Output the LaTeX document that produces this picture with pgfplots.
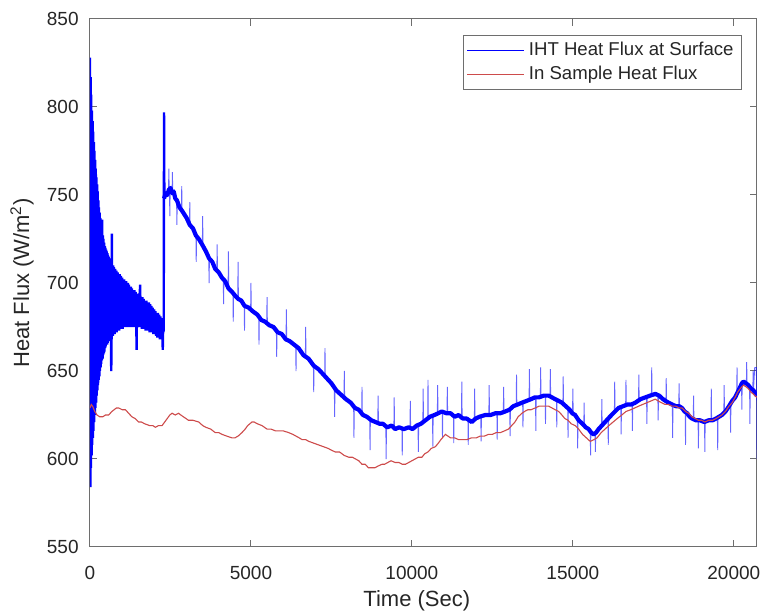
\documentclass[border=0pt]{standalone}
\usepackage{fontspec}
\setmainfont{Liberation Sans}
\usepackage{pgfplots}
\pgfplotsset{compat=1.18}
\definecolor{mblue}{rgb}{0,0,1}
\definecolor{mred}{RGB}{205,75,75}
\definecolor{mtext}{RGB}{38,38,38}
\definecolor{maxis}{RGB}{110,110,110}
\begin{document}
\begin{tikzpicture}
\useasboundingbox (-45pt,-34pt) rectangle (341pt,273.5pt);
\begin{axis}[
  at={(0,0)}, anchor=south west,
  scale only axis, width=333.5pt, height=264pt,
  xmin=0, xmax=20720, ymin=550, ymax=850,
  xtick={0,5000,10000,15000,20000},
  ytick={550,600,650,700,750,800,850},
  scaled x ticks=false,
  /pgf/number format/1000 sep={},
  /pgf/number format/assume math mode=true,
  tick align=inside, major tick length=3.3pt,
  axis line style={maxis, line width=0.5pt},
  tick style={maxis, line width=0.5pt},
  ticklabel style={font=\fontsize{9.5}{10}\selectfont, text=mtext},
  xticklabel style={anchor=center, inner sep=0pt, yshift=-13pt},
  yticklabel style={anchor=east, inner sep=0pt, xshift=-5.5pt},
  xlabel={Time (Sec)}, ylabel={Heat Flux (W/m\textsuperscript{2})},
  xlabel style={at={(axis description cs:0.49,-0.102)}, anchor=center, inner sep=0pt, font=\fontsize{11}{13}\selectfont, text=mtext},
  ylabel style={at={(axis description cs:-0.102,0.5)}, anchor=center, inner sep=0pt, font=\fontsize{11}{13}\selectfont, text=mtext},
  legend style={at={(rel axis cs:1,1)}, xshift=-7.5pt, yshift=-8pt, anchor=north east,
    draw=maxis, line width=0.4pt, fill=white, font=\fontsize{9.3}{11}\selectfont, text=mtext,
    inner xsep=2pt, inner ysep=2pt, row sep=1.6pt,
    nodes={inner xsep=2pt, inner ysep=1.2pt}},
  legend cell align=left,
  legend image code/.code={\draw[#1, line width=0.5pt] (0pt,0pt) -- (28.5pt,0pt);},
]
% early oscillating part
\addplot[mblue, line width=1.2pt, forget plot] coordinates {
(0,828) (10,584) (20,817) (30,595) (40,807) (50,602) (60,798) (70,608) (80,792) (90,612)
(100,786) (110,616) (120,780) (130,621) (140,775) (150,625) (160,770) (170,629) (180,765) (190,632)
(200,760) (210,636) (220,756) (230,639) (240,752) (250,642) (260,747) (270,645) (280,743) (290,647)
(300,740) (310,650) (320,737) (330,652) (340,734) (350,654) (360,732) (370,656) (380,736) (390,657)
(400,727) (410,659) (420,725) (430,660) (440,723) (450,661) (460,721) (470,663) (480,720) (490,664)
(500,719) (510,665) (520,718) (530,665) (540,717) (550,666) (560,716) (570,667) (580,715) (590,667)
(600,714) (610,668) (620,713) (630,668) (640,713) (650,669) (660,650) (670,669) (680,728) (690,670)
(700,710) (710,670) (720,710) (730,671) (740,709) (750,671) (760,708) (770,671) (780,708) (790,672)
(800,707) (810,672) (820,707) (830,672) (840,706) (850,673) (860,706) (870,673) (880,705) (890,673)
(900,705) (910,673) (920,705) (930,674) (940,704) (950,674) (960,704) (970,674) (980,703) (990,674)
(1000,703) (1015,674) (1030,702) (1045,675) (1060,702) (1075,675) (1090,701) (1105,675) (1120,701) (1135,675)
(1150,700) (1165,675) (1180,700) (1195,675) (1210,699) (1225,675) (1240,698) (1255,675) (1270,698) (1285,675)
(1300,697) (1320,675) (1340,696) (1360,675) (1380,696) (1400,675) (1420,695) (1450,662) (1460,694) (1480,675)
(1500,694) (1520,675) (1540,693) (1560,699) (1570,675) (1590,692) (1610,674) (1630,692) (1650,674) (1670,691)
(1690,674) (1710,690) (1730,673) (1750,690) (1770,673) (1790,689) (1810,673) (1830,689) (1850,672) (1870,688)
(1890,672) (1910,687) (1930,672) (1950,686) (1970,671) (1990,685) (2010,671) (2030,684) (2050,670) (2070,683)
(2090,669) (2110,683) (2130,669) (2150,682) (2170,668) (2190,681) (2210,668) (2230,680) (2250,672) (2260,662)
(2270,672) (2290,673) (2300,797) (2310,748)
};
% spikes
\addplot[mblue, opacity=0.6, line width=0.45pt, forget plot] coordinates {
(2310,748) (2440,753) (2450,765) (2460,753) (2470,752) (2480,738) (2490,752)
(2550,752) (2560,763) (2570,752) (2690,747) (2700,733) (2710,747)
(2840,741) (2850,755) (2860,741) (3090,733) (3100,746) (3110,733)
(3290,727) (3300,712) (3310,727) (3490,722) (3500,738) (3510,722)
(3690,714) (3700,700) (3710,714) (3940,707) (3950,722) (3960,707)
(4140,702) (4150,688) (4160,702) (4290,697) (4300,718) (4310,697)
(4440,694) (4450,678) (4460,694) (4590,691) (4600,712) (4610,691)
(4790,687) (4800,673) (4810,687) (4990,685) (5000,700) (5010,685)
(5240,681) (5250,665) (5260,681) (5490,677) (5500,692) (5510,677)
(5790,673) (5800,658) (5810,673) (6090,668) (6100,685) (6110,668)
(6390,664) (6400,650) (6410,664) (6690,658) (6700,675) (6710,658)
(6940,653) (6950,638) (6960,653) (7290,647) (7300,663) (7310,647)
(7590,640) (7600,624) (7610,640) (7890,635) (7900,650) (7910,635)
(8190,630) (8200,612) (8210,630) (8440,626) (8450,641) (8460,626)
(8690,623) (8700,605) (8710,623) (8940,621) (8950,636) (8960,621)
(9190,619) (9200,600) (9210,619) (9440,618) (9450,635) (9460,618)
(9690,617) (9700,602) (9710,617) (9940,618) (9950,633) (9960,618)
(10190,619) (10200,604) (10210,619) (10340,621) (10350,640) (10360,621)
(10490,623) (10500,645) (10510,623) (10640,625) (10650,607) (10660,625)
(10790,626) (10800,642) (10810,626) (10940,627) (10950,612) (10960,627)
(11090,626) (11100,641) (11110,626) (11290,625) (11300,609) (11310,625)
(11540,624) (11550,644) (11560,624) (11740,622) (11750,608) (11760,622)
(11940,622) (11950,640) (11960,622) (12140,624) (12150,610) (12160,624)
(12390,625) (12400,642) (12410,625) (12640,626) (12650,611) (12660,626)
(12840,627) (12850,641) (12860,627) (13040,628) (13050,613) (13060,628)
(13240,631) (13250,648) (13260,631) (13440,632) (13450,618) (13460,632)
(13640,634) (13650,651) (13660,634) (13840,635) (13850,616) (13860,635)
(13990,635) (14000,652) (14010,635) (14140,636) (14150,620) (14160,636)
(14290,636) (14300,651) (14310,636) (14490,634) (14500,618) (14510,634)
(14690,631) (14700,647) (14710,631) (14840,629) (14850,612) (14860,629)
(14990,626) (15000,640) (15010,626) (15140,623) (15150,606) (15160,623)
(15340,619) (15350,632) (15360,619) (15540,616) (15550,602) (15560,616)
(15690,614) (15700,604) (15710,614) (15890,619) (15900,634) (15910,619)
(16090,623) (16100,608) (16110,623) (16290,627) (16300,644) (16310,627)
(16490,630) (16500,614) (16510,630) (16640,631) (16650,645) (16660,631)
(16840,631) (16850,616) (16860,631) (17040,633) (17050,648) (17060,633)
(17290,635) (17300,620) (17310,635) (17440,636) (17450,652) (17460,636)
(17640,636) (17650,622) (17660,636) (17890,633) (17900,646) (17910,633)
(18090,631) (18100,612) (18110,631) (18290,630) (18300,643) (18310,630)
(18490,627) (18500,608) (18510,627) (18740,623) (18750,636) (18760,623)
(18890,622) (18900,606) (18910,622) (19090,621) (19100,604) (19110,621)
(19290,622) (19300,640) (19310,622) (19490,623) (19500,605) (19510,623)
(19690,626) (19700,642) (19710,626) (19890,631) (19900,615) (19910,631)
(20090,637) (20100,652) (20110,637) (20240,643) (20250,628) (20260,643)
(20390,643) (20400,655) (20410,643) (20490,641) (20500,620) (20510,641)
(20590,639) (20600,650) (20610,639) (20650,652) (20700,652) (20710,636) (20720,600)
};
% main trend (thick core)
\addplot[mblue, line width=2.1pt, line join=round] coordinates {
(2300,748) (2350,751) (2400,750) (2450,753) (2500,754) (2550,751) (2600,752) (2650,748) (2700,747) (2780,743)
(2860,741) (2930,739) (3000,737) (3100,733) (3200,731) (3290,727) (3380,725) (3480,722) (3600,718) (3700,714)
(3800,712) (3890,708) (4000,706) (4100,703) (4200,701) (4300,697) (4410,695) (4500,693) (4600,691) (4700,690)
(4800,687) (4930,686) (5050,684) (5200,682) (5320,679) (5440,678) (5570,676) (5700,675) (5830,672) (5960,671)
(6080,668) (6200,667) (6340,665) (6480,663) (6630,659) (6790,657) (6950,653) (7100,651) (7300,647) (7500,643)
(7650,639) (7830,636) (7950,634) (8100,632) (8230,629) (8350,628) (8480,625) (8600,624) (8740,622) (8870,621)
(9000,620) (9100,620) (9230,618) (9370,619) (9480,617) (9600,618) (9750,617) (9900,618) (10020,617) (10150,619)
(10280,620) (10420,622) (10560,624) (10700,625) (10820,626) (10930,627) (11070,626) (11200,626) (11330,624) (11450,625)
(11580,623) (11700,623) (11860,621) (11980,623) (12100,624) (12280,625) (12440,625) (12600,626) (12750,626) (12900,627)
(13030,628) (13150,630) (13290,631) (13420,632) (13560,633) (13700,634) (13820,635) (13940,635) (14100,636) (14250,636)
(14350,635) (14450,634) (14560,633) (14660,632) (14780,630) (14900,628) (14980,626) (15070,625) (15180,622) (15300,620)
(15400,618) (15490,617) (15570,615) (15640,614) (15720,615) (15800,617) (15900,619) (16000,621) (16100,623) (16200,625)
(16310,627) (16420,629) (16560,630) (16700,631) (16820,631) (16940,632) (17100,634) (17250,635) (17400,636) (17560,637)
(17680,636) (17800,634) (17880,633) (17970,632) (18080,631) (18200,630) (18300,630) (18390,629) (18470,627) (18550,626)
(18630,624) (18700,623) (18820,622) (18950,622) (19080,621) (19220,622) (19340,622) (19450,623) (19540,624) (19630,625)
(19740,627) (19850,630) (19950,633) (20040,635) (20120,638) (20200,641) (20250,643) (20300,644) (20380,643) (20450,642)
(20530,640) (20610,639) (20670,637) (20720,636)
};
\addlegendentry{IHT Heat Flux at Surface}
\addplot[mred, line width=0.55pt] coordinates {
(0,629) (40,631) (80,630) (150,627) (217,625) (300,624) (400,624) (480,625) (580,625) (680,627)
(750,628) (820,629) (890,629) (1000,628) (1100,628) (1200,626) (1300,624) (1400,623) (1510,621) (1600,621)
(1700,620) (1850,619) (1950,619) (2030,618) (2130,619) (2240,619) (2320,621) (2400,623) (2480,625) (2550,626)
(2650,625) (2750,626) (2820,625) (2900,624) (3060,622) (3200,622) (3380,621) (3500,619) (3600,618) (3750,617)
(3890,615) (4000,615) (4100,614) (4250,613) (4410,612) (4500,612) (4600,613) (4720,615) (4820,617) (4900,619)
(5030,621) (5100,621) (5200,620) (5340,619) (5420,618) (5500,617) (5620,617) (5760,616) (5880,616) (6000,616)
(6170,615) (6300,614) (6400,613) (6500,612) (6590,611) (6700,611) (6800,610) (6950,609) (7100,608) (7250,607)
(7400,606) (7500,605) (7620,604) (7750,604) (7900,602) (8040,601) (8150,601) (8250,600) (8350,599) (8450,597)
(8550,597) (8650,595) (8760,595) (8850,595) (8950,596) (9070,597) (9150,597) (9250,598) (9350,599) (9480,598)
(9600,598) (9700,597) (9800,597) (9900,598) (10000,599) (10100,600) (10200,601) (10310,601) (10400,603) (10500,604)
(10600,606) (10730,607) (10820,609) (10900,611) (11040,614) (11120,613) (11200,612) (11330,612) (11450,611) (11580,611)
(11700,611) (11850,612) (12000,612) (12120,613) (12250,613) (12380,614) (12500,614) (12620,615) (12750,615) (12880,616)
(13000,617) (13100,619) (13200,621) (13300,624) (13420,626) (13500,627) (13600,628) (13700,628) (13830,629) (13950,630)
(14050,630) (14150,630) (14250,630) (14350,629) (14450,628) (14560,627) (14660,625) (14750,623) (14850,622) (14950,620)
(15070,619) (15180,617) (15300,614) (15420,612) (15540,610) (15650,611) (15750,612) (15880,615) (16000,617) (16120,619)
(16250,621) (16380,623) (16520,625) (16650,627) (16800,628) (16920,629) (17040,630) (17170,631) (17300,632) (17430,633)
(17560,634) (17650,633) (17750,632) (17860,631) (17970,631) (18080,630) (18200,630) (18300,629) (18390,629) (18500,627)
(18600,626) (18700,624) (18800,623) (18900,622) (19000,622) (19100,621) (19220,622) (19340,622) (19450,623) (19540,624)
(19630,625) (19740,627) (19850,630) (19950,632) (20040,635) (20120,638) (20200,640) (20300,642) (20380,641) (20450,640)
(20530,638) (20600,637) (20660,636) (20720,635)
};
\addlegendentry{In Sample Heat Flux}
\end{axis}
\end{tikzpicture}
\end{document}
